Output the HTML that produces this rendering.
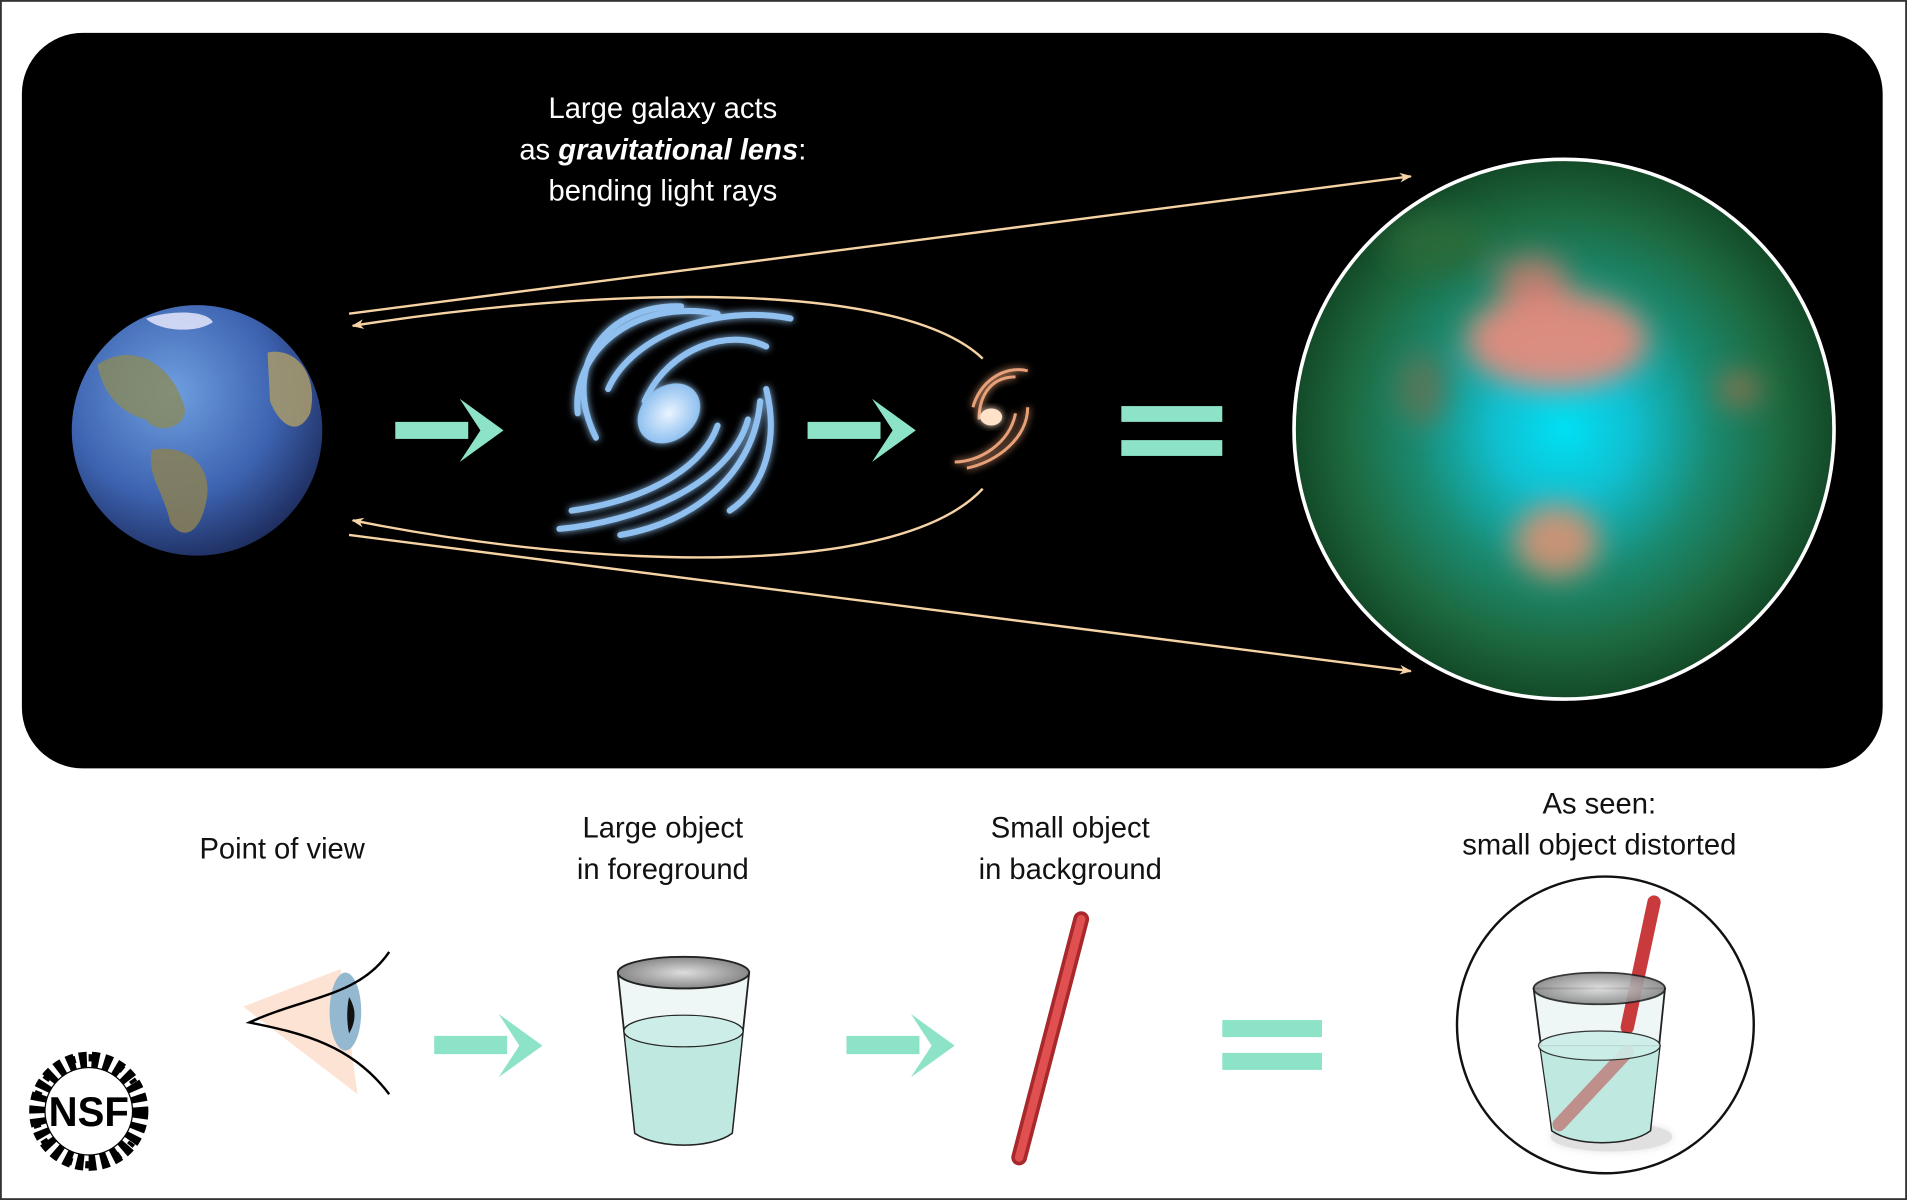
<!DOCTYPE html>
<html><head><meta charset="utf-8"><style>
html,body{margin:0;padding:0;background:#fff;}
svg{display:block;}
text{font-family:"Liberation Sans",sans-serif;}
</style></head><body>
<svg width="1907" height="1200" viewBox="0 0 1568 987" preserveAspectRatio="none" xmlns="http://www.w3.org/2000/svg">
<defs>
<radialGradient id="earth" cx="0.4" cy="0.35" r="0.7">
<stop offset="0" stop-color="#6f9fe0"/><stop offset="0.6" stop-color="#3d63b0"/><stop offset="1" stop-color="#1c2a5a"/></radialGradient>
<radialGradient id="lens" cx="0.5" cy="0.5" r="0.5">
<stop offset="0" stop-color="#00e0f4"/><stop offset="0.25" stop-color="#10c0d0"/><stop offset="0.55" stop-color="#1a8a70"/><stop offset="0.8" stop-color="#1d6a40"/><stop offset="1" stop-color="#134a28"/></radialGradient>
<radialGradient id="gal" cx="0.5" cy="0.5" r="0.5"><stop offset="0" stop-color="#eaf4ff"/><stop offset="1" stop-color="#8fc0f0"/></radialGradient>
<radialGradient id="cup" cx="0.5" cy="0.5" r="0.5"><stop offset="0" stop-color="#ddd"/><stop offset="1" stop-color="#888"/></radialGradient>
<filter id="blur" x="-20%" y="-20%" width="140%" height="140%"><feGaussianBlur stdDeviation="12"/></filter>
<filter id="glow" x="-30%" y="-30%" width="160%" height="160%"><feGaussianBlur stdDeviation="3" result="b"/><feMerge><feMergeNode in="b"/><feMergeNode in="SourceGraphic"/></feMerge></filter>
<clipPath id="lc"><circle cx="1286" cy="353" r="222"/></clipPath>
<marker id="ah" markerWidth="10" markerHeight="8" refX="9" refY="4" orient="auto" markerUnits="userSpaceOnUse"><path d="M0,0 L10,4 L0,8 L3,4 Z" fill="#f5d3a4"/></marker>
</defs>
<rect x="0.5" y="0.5" width="1567" height="986" fill="#fff" stroke="#333" stroke-width="2"/>
<rect x="18" y="27" width="1530" height="605" rx="50" fill="#000"/>
<text x="545" y="97" font-size="24" fill="#fff" text-anchor="middle">Large galaxy acts</text>
<text x="545" y="131" font-size="24" fill="#fff" text-anchor="middle">as <tspan font-weight="bold" font-style="italic">gravitational lens</tspan>:</text>
<text x="545" y="165" font-size="24" fill="#fff" text-anchor="middle">bending light rays</text>
<g stroke="#f5d3a4" stroke-width="2" fill="none">
<line x1="287" y1="258" x2="1160" y2="145" marker-end="url(#ah)"/>
<path d="M808,295 C740,230 500,235 290,268" marker-end="url(#ah)"/>
<path d="M808,402 C740,475 500,470 290,428" marker-end="url(#ah)"/>
<line x1="287" y1="440" x2="1160" y2="552" marker-end="url(#ah)"/>
</g>
<circle cx="162" cy="354" r="103" fill="url(#earth)"/>
<path d="M80,300 C110,280 140,300 150,330 C160,350 130,360 120,345 C100,340 85,325 80,300Z" fill="#8a8a5a" opacity="0.8"/>
<path d="M125,370 C150,365 175,380 170,410 C165,440 150,445 140,430 C135,405 120,390 125,370Z" fill="#8a8056" opacity="0.85"/>
<path d="M220,290 C245,285 262,310 255,340 C245,360 230,350 222,330Z" fill="#a89a6a" opacity="0.85"/>
<path d="M120,262 C140,255 170,255 175,265 C160,275 130,272 120,262Z" fill="#eef" opacity="0.8"/>
<g fill="#8de3c8">
<rect x="325" y="347" width="60" height="14"/><path d="M378,328 L414,354 L378,380 L395,354Z"/>
<rect x="664" y="347" width="60" height="14"/><path d="M717,328 L753,354 L717,380 L734,354Z"/>
<rect x="922" y="334" width="83" height="13"/><rect x="922" y="362" width="83" height="13"/>
<rect x="357" y="852" width="60" height="15"/><path d="M410,834 L446,860 L410,886 L427,860Z"/>
<rect x="696" y="852" width="60" height="15"/><path d="M749,834 L785,860 L749,886 L766,860Z"/>
<rect x="1005" y="839" width="82" height="14"/><rect x="1005" y="866" width="82" height="14"/>
</g>
<g filter="url(#glow)" stroke="#8fc0f0" stroke-width="5" fill="none" stroke-linecap="round">
<path d="M650,262 C590,250 520,275 500,320"/>
<path d="M630,285 C600,270 550,285 530,330"/>
<path d="M590,258 C520,245 470,290 475,340"/>
<path d="M560,252 C500,250 460,300 490,360"/>
<path d="M460,435 C520,430 600,400 615,345"/>
<path d="M510,440 C570,430 620,390 625,330"/>
<path d="M470,420 C540,410 580,380 590,350"/>
<path d="M600,420 C630,400 640,360 630,320"/>
</g>
<ellipse cx="550" cy="340" rx="28" ry="22" transform="rotate(-40 550 340)" fill="url(#gal)" filter="url(#glow)"/>
<g stroke="#e8a078" stroke-width="2.5" fill="none" filter="url(#glow)">
<path d="M845,305 C825,300 805,315 800,335"/><path d="M835,310 C815,310 805,325 805,345"/>
<path d="M785,380 C805,380 830,365 835,340"/><path d="M795,385 C820,380 845,360 845,335"/>
</g>
<ellipse cx="815" cy="343" rx="9" ry="7" fill="#ffe2c8" filter="url(#glow)"/>
<g clip-path="url(#lc)">
<circle cx="1286" cy="353" r="222" fill="url(#lens)"/>
<g filter="url(#blur)">
<ellipse cx="1280" cy="280" rx="75" ry="40" fill="#f08a7a" opacity="0.9"/>
<ellipse cx="1260" cy="230" rx="30" ry="20" fill="#f07a70" opacity="0.7"/>
<ellipse cx="1280" cy="445" rx="35" ry="30" fill="#e89070" opacity="0.85"/>
<ellipse cx="1170" cy="320" rx="20" ry="30" fill="#6f6e50" opacity="0.7"/>
<ellipse cx="1430" cy="320" rx="18" ry="15" fill="#b0704a" opacity="0.7"/>
<ellipse cx="1180" cy="200" rx="40" ry="25" fill="#2d6a3a" opacity="0.8"/>
</g>
</g>
<circle cx="1286" cy="353" r="222" fill="none" stroke="#fff" stroke-width="3"/>
<g font-size="24" fill="#111" text-anchor="middle">
<text x="232" y="706">Point of view</text>
<text x="545" y="689">Large object</text><text x="545" y="723">in foreground</text>
<text x="880" y="689">Small object</text><text x="880" y="723">in background</text>
<text x="1315" y="669">As seen:</text><text x="1315" y="703">small object distorted</text>
</g>
<path d="M200,828 L280,797 L294,900 Z" fill="#fde3d3"/>
<ellipse cx="284" cy="832" rx="13" ry="32" fill="#93b8d0"/>
<path d="M287,820 C293,830 293,840 287,850 C285,840 285,830 287,820Z" fill="#111"/>
<path d="M320,783 C295,820 250,820 205,841 C250,850 290,860 320,900" fill="none" stroke="#000" stroke-width="2"/>
<path d="M508,800 L616,800 L602,932 C585,945 540,945 522,932 Z" fill="#eef6f6" stroke="#222" stroke-width="1.5"/>
<path d="M513,848 L611,848 L602,932 C585,945 540,945 522,932 Z" fill="#bfe8e0" stroke="#222" stroke-width="1"/>
<ellipse cx="562" cy="848" rx="49" ry="13" fill="#cdeee8" stroke="#222" stroke-width="1"/>
<ellipse cx="562" cy="800" rx="54" ry="13" fill="url(#cup)" stroke="#222" stroke-width="1.5"/>
<line x1="838" y1="952" x2="889" y2="756" stroke="#a8282c" stroke-width="13" stroke-linecap="round"/>
<line x1="838" y1="952" x2="889" y2="756" stroke="#e05050" stroke-width="7" stroke-linecap="round"/>
<circle cx="1320" cy="843" r="122" fill="#fff" stroke="#111" stroke-width="2"/>
<ellipse cx="1325" cy="935" rx="50" ry="12" fill="#ccc" filter="url(#glow)" opacity="0.6"/>
<path d="M1261,813 L1369,813 L1357,930 C1340,943 1295,943 1276,930 Z" fill="#eef6f6" stroke="#222" stroke-width="1.5"/>
<line x1="1338" y1="845" x2="1360" y2="742" stroke="#c83a3c" stroke-width="11" stroke-linecap="round"/>
<path d="M1266,860 L1365,860 L1357,930 C1340,943 1295,943 1276,930 Z" fill="#bfe8e0" stroke="#222" stroke-width="1"/>
<line x1="1282" y1="925" x2="1338" y2="865" stroke="#c07a78" stroke-width="11" stroke-linecap="round" opacity="0.8"/>
<ellipse cx="1315" cy="860" rx="50" ry="12" fill="#cdeee8" stroke="#222" stroke-width="1" opacity="0.9"/>
<ellipse cx="1315" cy="813" rx="54" ry="13" fill="url(#cup)" stroke="#222" stroke-width="1.5" opacity="0.9"/>
<g transform="translate(73,914)">
<circle r="42" fill="none" stroke="#000" stroke-width="14" stroke-dasharray="6 4"/>
<circle r="44" fill="none" stroke="#000" stroke-width="6" stroke-dasharray="3 10.8"/>
<circle r="36" fill="#fff" stroke="#000" stroke-width="1"/>
<text x="0" y="12" font-size="34" font-family="Liberation Serif,serif" font-weight="bold" text-anchor="middle" fill="#000" textLength="66" lengthAdjust="spacingAndGlyphs">NSF</text>
</g>
</svg>
</body></html>
